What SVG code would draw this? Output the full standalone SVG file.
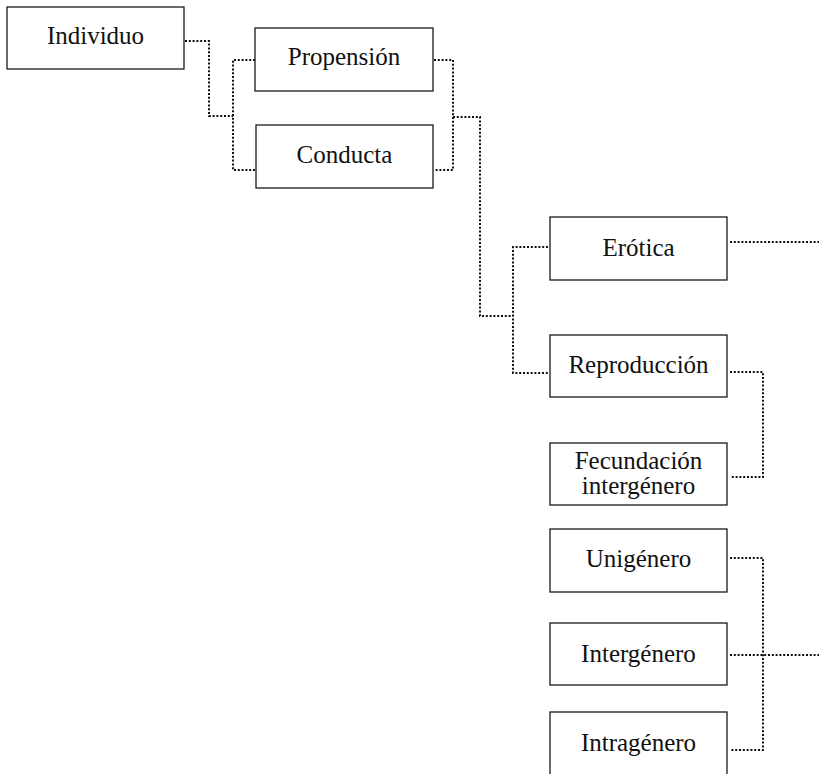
<svg xmlns="http://www.w3.org/2000/svg" width="819" height="774" viewBox="0 0 819 774">
<style>
.box{fill:#fff;stroke:#1a1a1a;stroke-width:1.3}
.t{font-family:"Liberation Serif","Times New Roman",serif;font-size:25px;fill:#111;text-anchor:middle}
.c{fill:none;stroke:#111;stroke-width:2;stroke-dasharray:2 1.8}
</style>
<rect width="819" height="774" fill="#fff"/>
<g id="connectors">
<path class="c" d="M185,41 H209 V116 H233"/>
<path class="c" d="M255,60 H233 V170 H256"/>
<path class="c" d="M434,60 H453 V170 H434"/>
<path class="c" d="M453,117 H480 V316 H513"/>
<path class="c" d="M548,247 H513 V373 H548"/>
<path class="c" d="M730,242 H819"/>
<path class="c" d="M730,372 H763 V477 H730"/>
<path class="c" d="M730,558 H763 V750 H730"/>
<path class="c" d="M730,655 H819"/>
</g>
<g id="n-individuo"><rect class="box" x="7" y="7" width="177" height="62"/><text class="t" x="95.5" y="44">Individuo</text></g>
<g id="n-propension"><rect class="box" x="255" y="28" width="178" height="63"/><text class="t" x="344" y="65">Propensión</text></g>
<g id="n-conducta"><rect class="box" x="256" y="125" width="177" height="63"/><text class="t" x="344.5" y="163">Conducta</text></g>
<g id="n-erotica"><rect class="box" x="550" y="217" width="177" height="63"/><text class="t" x="638.5" y="256">Erótica</text></g>
<g id="n-reproduccion"><rect class="box" x="550" y="335" width="177" height="62"/><text class="t" x="638.5" y="373">Reproducción</text></g>
<g id="n-fecundacion"><rect class="box" x="550" y="443" width="177" height="62"/><text class="t" x="638.5" y="469">Fecundación</text><text class="t" x="638.5" y="494">intergénero</text></g>
<g id="n-unigenero"><rect class="box" x="550" y="529" width="177" height="63"/><text class="t" x="638.5" y="567">Unigénero</text></g>
<g id="n-intergenero"><rect class="box" x="550" y="623" width="177" height="62"/><text class="t" x="638.5" y="662">Intergénero</text></g>
<g id="n-intragenero"><rect class="box" x="550" y="712" width="177" height="80"/><text class="t" x="638.5" y="751">Intragénero</text></g>
</svg>
